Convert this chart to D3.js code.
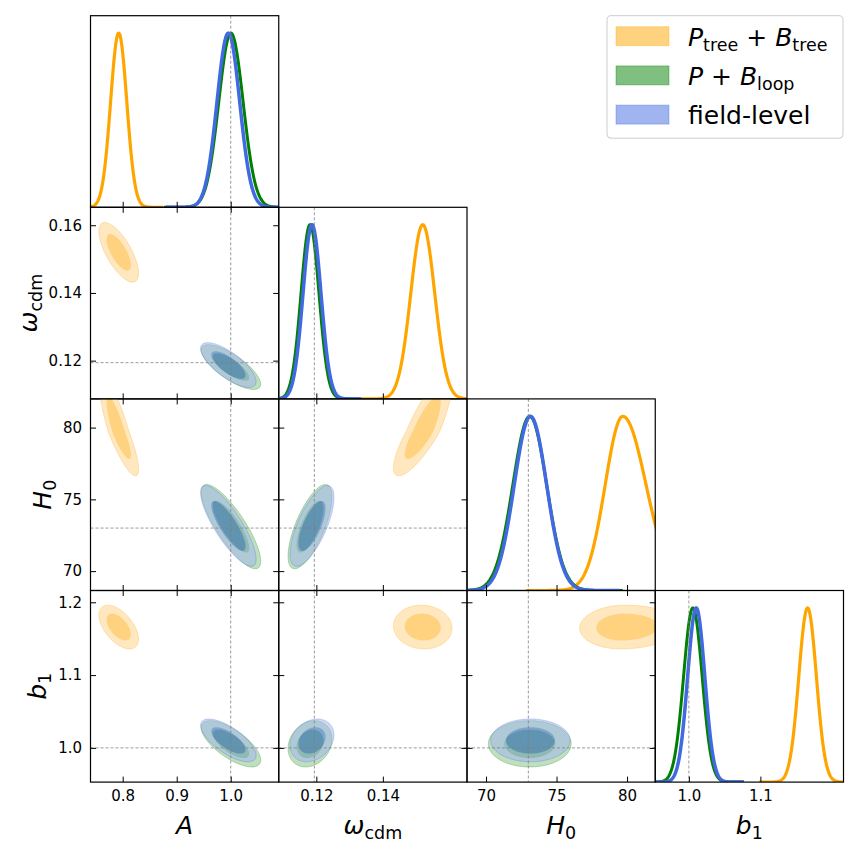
<!DOCTYPE html>
<html>
<head>
<meta charset="utf-8">
<title>Posterior corner plot</title>
<style>
  body { margin: 0; background: #fff; }
  svg text { font-family: 'DejaVu Sans', sans-serif; fill: #000; }
  .legend text { white-space: pre; }
</style>
</head>
<body>
<div id="chart"></div>
<script src="https://d3js.org/d3.v7.min.js"></script>
<script>
(function(d3) {
  'use strict';

  // parameters and axes
  var paramLabels = [
    [{t: 'A', it: true}],
    [{t: 'ω', it: true}, {t: 'cdm', sub: true}],
    [{t: 'H', it: true}, {t: '0', sub: true}],
    [{t: 'b', it: true}, {t: '1', sub: true}]
  ];
  var truthValues = [1.0, 0.1194, 73.0, 1.0];
  var axisRanges = [[0.7404, 1.0889], [0.1087, 0.1653], [68.65, 82.0], [0.953, 1.2162]];
  var xTickValues = [[0.8, 0.9, 1.0], [0.12, 0.14], [70, 75, 80], [1.0, 1.1]];
  var xTickLabels = [['0.8', '0.9', '1.0'], ['0.12', '0.14'], ['70', '75', '80'], ['1.0', '1.1']];
  var yTickValues = [[], [0.12, 0.14, 0.16], [70, 75, 80], [1.0, 1.1, 1.2]];
  var yTickLabels = [[], ['0.12', '0.14', '0.16'], ['70', '75', '80'], ['1.0', '1.1', '1.2']];

  // P_tree + B_tree (orange)
  var meanTree = [0.7926, 0.1520, 79.70, 1.1660];
  var sigLoTree = [0.0150, 0.0036, 1.25, 0.0123];
  var sigHiTree = [0.0150, 0.0036, 1.65, 0.0123];
  var corrTree = [
    [1, -0.70, -0.85, -0.55],
    [-0.70, 1, 0.82, -0.05],
    [-0.85, 0.82, 1, 0.05],
    [-0.55, -0.05, 0.05, 1]
  ];

  // P + B_loop (green)
  var meanLoop = [1.0004, 0.1181, 73.10, 1.0056];
  var sigLoLoop = [0.0225, 0.0027, 1.20, 0.0130];
  var sigHiLoop = [0.0225, 0.0027, 1.20, 0.0130];
  var corrLoop = [
    [1, -0.76, -0.82, -0.70],
    [-0.76, 1, 0.70, 0.20],
    [-0.82, 0.70, 1, 0.00],
    [-0.70, 0.20, 0.00, 1]
  ];

  // field-level (blue)
  var meanField = [0.9956, 0.1187, 73.15, 1.0103];
  var sigLoField = [0.0210, 0.0027, 1.15, 0.0120];
  var sigHiField = [0.0210, 0.0027, 1.15, 0.0120];
  var corrField = [
    [1, -0.74, -0.82, -0.70],
    [-0.74, 1, 0.70, 0.25],
    [-0.82, 0.70, 1, 0.00],
    [-0.70, 0.25, 0.00, 1]
  ];

  var series = [
    {mean: meanTree, lo: sigLoTree, hi: sigHiTree, corr: corrTree, line: '#FFA500', rgb: [255, 165, 0], lw: 3.2},
    {mean: meanLoop, lo: sigLoLoop, hi: sigHiLoop, corr: corrLoop, line: '#008000', rgb: [0, 128, 0], lw: 3},
    {mean: meanField, lo: sigLoField, hi: sigHiField, corr: corrField, line: '#4169E1', rgb: [65, 105, 225], lw: 3.5}
  ];
  var legendItems = [
    [{t: 'P', it: true}, {t: 'tree', sub: true}, {t: ' + '}, {t: 'B', it: true}, {t: 'tree', sub: true}],
    [{t: 'P', it: true}, {t: ' + '}, {t: 'B', it: true}, {t: 'loop', sub: true}],
    [{t: 'field-level'}]
  ];

  var width = 859, height = 859;
  var left = 90.5, top = 15.7, panelW = 188.25, panelH = 191.6;
  var n = axisRanges.length;

  var svg = d3.select('#chart').append('svg')
    .attr('width', width)
    .attr('height', height);
  var defs = svg.append('defs');

  var xs = axisRanges.map(function(r, i) {
    return d3.scaleLinear().domain(r).range([left + i * panelW, left + (i + 1) * panelW]);
  });
  var ys = axisRanges.map(function(r, j) {
    return d3.scaleLinear().domain(r).range([top + (j + 1) * panelH, top + j * panelH]);
  });

  var line = d3.line();

  function rgba(c, a) { return 'rgba(' + c.join(',') + ',' + a + ')'; }
  function lighter(c) { return c.map(function(v) { return Math.round((v + 255) / 2); }); }

  function side(s, k, u) { return u < 0 ? s.lo[k] : s.hi[k]; }

  function contourPath(s, i, j, p) {
    var r = Math.sqrt(-2 * Math.log(1 - p));
    var rho = s.corr[i][j];
    var pts = d3.range(0, 360).map(function(k) {
      var t = k / 360 * 2 * Math.PI;
      var u = r * Math.cos(t);
      var v = r * (rho * Math.cos(t) + Math.sqrt(1 - rho * rho) * Math.sin(t));
      return [xs[i](s.mean[i] + u * side(s, i, u)), ys[j](s.mean[j] + v * side(s, j, v))];
    });
    return d3.line().curve(d3.curveLinearClosed)(pts);
  }

  function densityPath(s, i, yd) {
    var a = s.mean[i] - 5.5 * s.lo[i], b = s.mean[i] + 5.5 * s.hi[i];
    var pts = d3.range(0, 401).map(function(k) {
      var x = a + (b - a) * k / 400;
      var z = (x - s.mean[i]) / side(s, i, x - s.mean[i]);
      return [xs[i](x), yd(Math.exp(-0.5 * z * z))];
    });
    return line(pts);
  }

  function styleAxis(g) {
    g.select('.domain').remove();
    g.attr('font-family', null).attr('font-size', null);
    g.selectAll('.tick line').attr('stroke', '#000').attr('stroke-width', 1);
    g.selectAll('.tick text').attr('font-size', 15);
  }

  function addMath(text, parts, size) {
    var shifted = false;
    parts.forEach(function(p) {
      var ts = text.append('tspan').text(p.t);
      if (p.it) ts.attr('font-style', 'italic');
      if (p.sub) {
        ts.attr('font-size', size * 0.7);
        if (!shifted) { ts.attr('dy', size * 0.2); shifted = true; }
      } else if (shifted) {
        ts.attr('dy', -size * 0.2);
        shifted = false;
      }
    });
  }

  function truthLine(g, x1, x2, y1, y2) {
    g.append('line')
      .attr('x1', x1).attr('x2', x2).attr('y1', y1).attr('y2', y2)
      .attr('stroke', '#808080').attr('stroke-width', 0.8).attr('stroke-dasharray', '3,2');
  }

  var tickLen = 5.5;

  for (var j = 0; j < n; j++) {
    for (var i = 0; i <= j; i++) {
      var x0 = left + i * panelW, y0 = top + j * panelH;
      var id = 'clip-' + j + '-' + i;
      defs.append('clipPath').attr('id', id)
        .append('rect').attr('x', x0).attr('y', y0).attr('width', panelW).attr('height', panelH);
      var panel = svg.append('g');
      var content = panel.append('g').attr('clip-path', 'url(#' + id + ')');

      if (i === j) {
        var yd = d3.scaleLinear().domain([0, 1.1]).range([y0 + panelH, y0]);
        series.forEach(function(s) {
          content.append('path')
            .attr('d', densityPath(s, i, yd))
            .attr('fill', 'none')
            .attr('stroke', s.line)
            .attr('stroke-width', s.lw)
            .attr('stroke-linejoin', 'round');
        });
        truthLine(content, xs[i](truthValues[i]), xs[i](truthValues[i]), y0, y0 + panelH);
      } else {
        series.forEach(function(s) {
          var outer = contourPath(s, i, j, 0.95);
          var inner = contourPath(s, i, j, 0.68);
          // 95% band (ring) and 68% core, each half transparent
          content.append('path')
            .attr('d', outer + inner)
            .attr('fill-rule', 'evenodd')
            .attr('fill', rgba(lighter(s.rgb), 0.5))
            .attr('stroke', 'none');
          content.append('path')
            .attr('d', inner)
            .attr('fill', rgba(s.rgb, 0.5))
            .attr('stroke', 'none');
          content.append('path')
            .attr('d', outer)
            .attr('fill', 'none')
            .attr('stroke', rgba(s.rgb, 0.25))
            .attr('stroke-width', 1);
        });
        truthLine(content, xs[i](truthValues[i]), xs[i](truthValues[i]), y0, y0 + panelH);
        truthLine(content, x0, x0 + panelW, ys[j](truthValues[j]), ys[j](truthValues[j]));
      }

      // ticks (all pointing inward)
      (function(i, j, x0, y0) {
        panel.append('g')
          .attr('transform', 'translate(0,' + (y0 + panelH) + ')')
          .call(d3.axisBottom(xs[i]).tickValues(xTickValues[i])
            .tickSizeInner(-tickLen).tickSizeOuter(0).tickPadding(8)
            .tickFormat(function(d, k) { return j === n - 1 ? xTickLabels[i][k] : ''; }))
          .call(styleAxis);
        if (i !== j) {
          panel.append('g')
            .attr('transform', 'translate(0,' + y0 + ')')
            .call(d3.axisTop(xs[i]).tickValues(xTickValues[i])
              .tickSizeInner(-tickLen).tickSizeOuter(0).tickFormat(''))
            .call(styleAxis);
          panel.append('g')
            .attr('class', i === 0 ? 'yaxis-' + j : null)
            .attr('transform', 'translate(' + x0 + ',0)')
            .call(d3.axisLeft(ys[j]).tickValues(yTickValues[j])
              .tickSizeInner(-tickLen).tickSizeOuter(0).tickPadding(8.5)
              .tickFormat(function(d, k) { return i === 0 ? yTickLabels[j][k] : ''; }))
            .call(styleAxis);
          panel.append('g')
            .attr('transform', 'translate(' + (x0 + panelW) + ',0)')
            .call(d3.axisRight(ys[j]).tickValues(yTickValues[j])
              .tickSizeInner(-tickLen).tickSizeOuter(0).tickFormat(''))
            .call(styleAxis);
        }
      })(i, j, x0, y0);

      panel.append('rect')
        .attr('x', x0).attr('y', y0).attr('width', panelW).attr('height', panelH)
        .attr('fill', 'none').attr('stroke', '#000').attr('stroke-width', 1.2);
    }
  }

  // x labels
  var labelSize = 25;
  paramLabels.forEach(function(parts, i) {
    var t = svg.append('text')
      .attr('x', left + (i + 0.5) * panelW)
      .attr('y', 834)
      .attr('text-anchor', 'middle')
      .attr('font-size', labelSize);
    addMath(t, parts, labelSize);
  });

  // y labels, placed left of the widest tick label
  for (var r = 1; r < n; r++) {
    var maxW = 0;
    svg.selectAll('.yaxis-' + r + ' .tick text').each(function() {
      maxW = Math.max(maxW, this.getComputedTextLength());
    });
    var bx = left - 8.5 - maxW - 12;
    var yc = top + (r + 0.5) * panelH;
    var t = svg.append('text')
      .attr('transform', 'translate(' + bx + ',' + yc + ') rotate(-90)')
      .attr('text-anchor', 'middle')
      .attr('font-size', labelSize);
    addMath(t, paramLabels[r], labelSize);
  }

  // legend
  var legend = svg.append('g').attr('class', 'legend');
  legend.append('rect')
    .attr('x', 607).attr('y', 15.7).attr('width', 236).attr('height', 122.5)
    .attr('rx', 4).attr('ry', 4)
    .attr('fill', '#fff').attr('stroke', '#cccccc').attr('stroke-width', 1);
  legendItems.forEach(function(parts, k) {
    var s = series[k];
    var yy = 26.7 + k * 39.2;
    legend.append('rect')
      .attr('x', 616).attr('y', yy).attr('width', 53).attr('height', 19)
      .attr('fill', rgba(s.rgb, 0.5))
      .attr('stroke', rgba(s.rgb, 0.35))
      .attr('stroke-width', 1);
    var t = legend.append('text')
      .attr('x', 688).attr('y', yy + 18.8)
      .attr('font-size', labelSize);
    addMath(t, parts, labelSize);
  });
})(window.d3);
</script>
</body>
</html>
